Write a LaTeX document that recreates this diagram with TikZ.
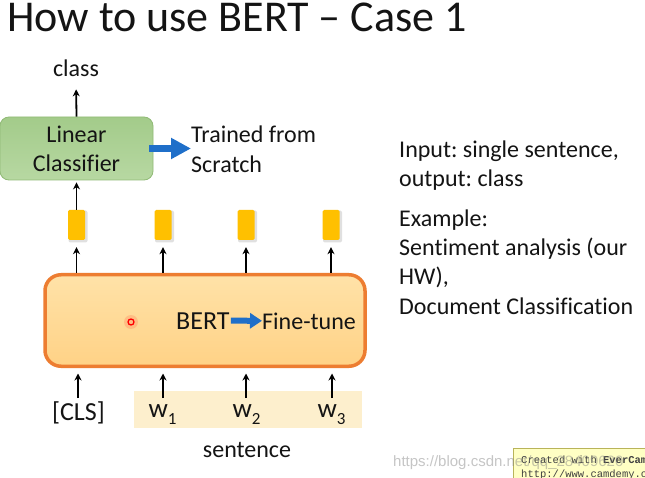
\documentclass[tikz,border=0pt]{standalone}
\usepackage{fontspec}
\setmainfont{Carlito}[Ligatures=CommonOff]
\newfontfamily\monofam{Liberation Mono}
\newfontfamily\urlfam{Liberation Sans}
\usetikzlibrary{arrows.meta}
\frenchspacing
\definecolor{ink}{HTML}{141414}
\definecolor{arrowblue}{HTML}{1F6FC9}
\definecolor{lctop}{HTML}{A3CB8A}
\definecolor{lcbot}{HTML}{B7D8A2}
\definecolor{lcbord}{HTML}{90BA76}
\definecolor{tokyel}{HTML}{FFC000}
\definecolor{berttop}{HTML}{FFE2A8}
\definecolor{bertbot}{HTML}{FFD286}
\definecolor{bertbord}{HTML}{ED7D31}
\definecolor{sentcol}{HTML}{FDEFCD}
\definecolor{evfill}{HTML}{FFFFC4}
\definecolor{evbord}{HTML}{B9B45A}
\begin{document}
\begin{tikzpicture}[x=1pt,y=-1pt,
  txt/.style={inner sep=0pt, text=ink, font=\fontsize{24}{29}\selectfont},
  arr/.style={draw=black, line width=1.8pt, -{Stealth[length=7pt,width=7pt]}},
  barrow/.style={draw=arrowblue, line width=7pt, -{Triangle[length=20pt,width=20pt]}},
  sbarrow/.style={draw=arrowblue, line width=6pt, -{Triangle[length=12pt,width=15pt]}},
  lcbox/.style={rectangle, rounded corners=9pt, minimum width=153pt, minimum height=63pt,
    inner sep=0pt, draw=lcbord, line width=0.8pt, top color=lctop, bottom color=lcbot,
    align=center, text=ink, font=\fontsize{24}{29}\selectfont},
  tok/.style={rectangle, rounded corners=1.5pt, minimum width=17pt, minimum height=30pt,
    inner sep=0pt, fill=tokyel},
  tokshadow/.style={rectangle, rounded corners=2pt, minimum width=19pt, minimum height=32pt,
    inner sep=0pt, fill=black, opacity=0.12},
  bertbox/.style={rectangle, rounded corners=16pt, minimum width=320pt, minimum height=91.5pt,
    inner sep=0pt, draw=bertbord, line width=3.5pt, top color=berttop, bottom color=bertbot},
  inp/.style={inner sep=0pt, text=ink, font=\fontsize{26}{30}\selectfont}]
\useasboundingbox (0,0) rectangle (645,478);
\fill[white] (0,0) rectangle (645,478);
\begin{scope}
\clip (0,0) rectangle (645,478);

% title
\node[txt, anchor=base west, font=\fontsize{44}{52}\selectfont] (title) at (7,32) {How to use BERT – Case 1};

% classifier part
\node[txt, anchor=base] (cls) at (76,77) {class};
\node[lcbox] (lc) at (76.5,148.5) {Linear\\Classifier};
\node[txt, anchor=base west] (tr1) at (191,143) {Trained from};
\node[txt, anchor=base west] (tr2) at (191,173) {Scratch};
\draw[barrow] ([xshift=-4pt]lc.east) -- (lc.east -| tr1.west);
\draw[arr, shorten >=12pt] (lc.north) -- (cls.south);

% tokens
\foreach \i/\x in {0/76.5,1/163,2/246,3/331}{
  \node[tokshadow] (s\i) at (\x+1.5,226.5) {};
  \node[tok] (t\i) at (\x,225) {};
}

% BERT box
\node[bertbox] (bert) at (205,320.5) {};
\fill[red, opacity=0.13] (131,322) circle (7);
\node[circle, draw=red, line width=1.3pt, minimum size=6pt, inner sep=0pt] (dot) at (131,322) {};
\node[txt, anchor=base west, font=\fontsize{26}{30}\selectfont] (bertlbl) at (176,329) {BERT};
\node[txt, anchor=base west] (ft) at (262,329) {Fine-tune};
\draw[sbarrow] ([xshift=1pt]bertlbl.east) -- (ft.west);

\foreach \i in {0,1,2,3}
  \draw[arr, shorten >=7pt] (bert.north -| t\i) -- (t\i.south);
\draw[arr, shorten >=2pt] (t0.north) -- (lc.south);

% inputs
\node[fill=sentcol, minimum width=228pt, minimum height=37pt, inner sep=0pt] (sentbg) at (248,409.5) {};
\node[inp, anchor=base] (in0) at (78.5,420) {[CLS]};
\node[inp, anchor=base, font=\fontsize{27}{30}\selectfont] (in1) at (162.5,417) {w\raisebox{-7pt}{\fontsize{17}{17}\selectfont 1}};
\node[inp, anchor=base, font=\fontsize{27}{30}\selectfont] (in2) at (246.5,417) {w\raisebox{-7pt}{\fontsize{17}{17}\selectfont 2}};
\node[inp, anchor=base, font=\fontsize{27}{30}\selectfont] (in3) at (331.5,417) {w\raisebox{-7pt}{\fontsize{17}{17}\selectfont 3}};
\coordinate (a0) at (78,398);
\draw[arr, shorten >=5.5pt] (a0) -- (bert.south -| a0);
\foreach \i/\x in {1/163,2/246,3/332}{
  \coordinate (a\i) at (\x,398);
  \draw[arr, shorten >=5.5pt] (a\i) -- (bert.south -| a\i);
}
\node[txt, anchor=base] (sentlbl) at (247,457) {sentence};

% right text
\node[txt, anchor=base west] (r1) at (399,158) {Input: single sentence,};
\node[txt, anchor=base west] (r2) at (399,187) {output: class};
\node[txt, anchor=base west] (r3) at (399,227) {Example:};
\node[txt, anchor=base west] (r4) at (399,256) {Sentiment analysis (our};
\node[txt, anchor=base west] (r5) at (399,285) {HW),};
\node[txt, anchor=base west] (r6) at (399,314) {Document Classification};

% watermarks
\node[draw=evbord, fill=evfill, anchor=north west, minimum width=140pt, minimum height=40pt, inner sep=0pt] (ev) at (513,448) {};
\node[anchor=base west, inner sep=0pt, text=black!75, font=\monofam\fontsize{10.5}{12}\selectfont] (ev1) at (521,463) {Created with \textbf{EverCam}};
\node[anchor=base west, inner sep=0pt, text=black!75, font=\monofam\fontsize{10.5}{12}\selectfont] (ev2) at (521,477) {http://www.camdemy.com};
\node[anchor=base west, inner sep=0pt, text=gray, opacity=0.45, font=\urlfam\fontsize{15}{16}\selectfont] (csdn) at (393,466) {https://blog.csdn.net/qq\_28409620};
\end{scope}
\end{tikzpicture}
\end{document}
